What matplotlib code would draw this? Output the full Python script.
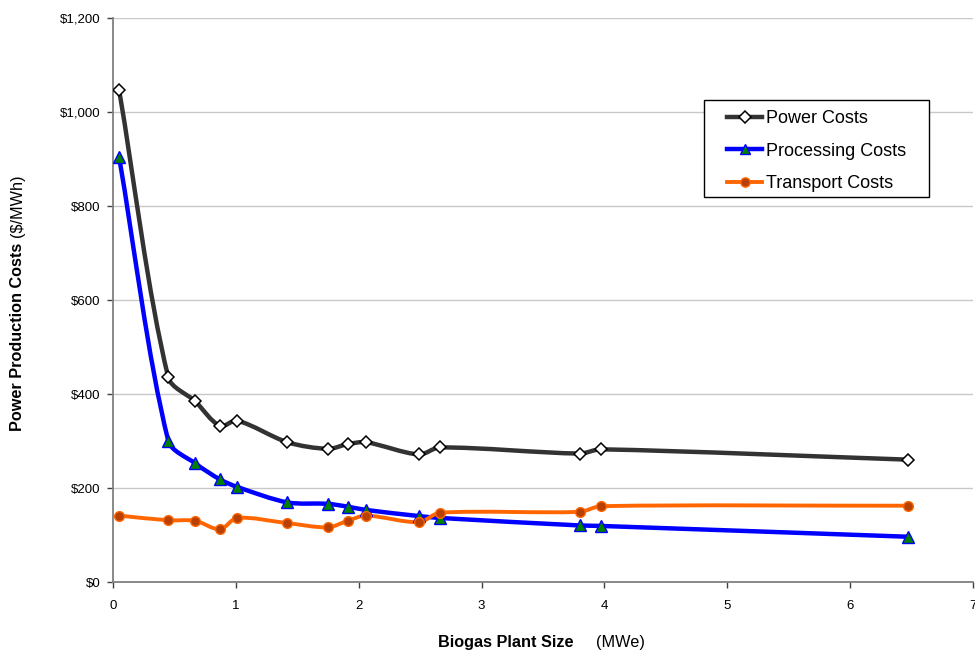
import matplotlib as mpl
mpl.use('Agg')

import math
import matplotlib.pyplot as plt
from matplotlib.path import Path
from matplotlib.patches import PathPatch, Rectangle
from matplotlib.lines import Line2D
from matplotlib.ticker import FuncFormatter

plt.rcParams['font.family'] = ['Liberation Sans', 'DejaVu Sans']

# plant size (MWe)
plant_size = [0.05, 0.45, 0.67, 0.87, 1.01, 1.42, 1.75, 1.91, 2.06, 2.49, 2.66, 3.80, 3.97, 6.47]

# costs ($/MWh)
power_costs = [1047, 436, 385, 333, 344, 298, 284, 294, 298, 272, 287, 274, 283, 261]
processing_costs = [904, 301, 253, 219, 203, 170, 167, 161, 154, 141, 137, 121, 120, 97]
transport_costs = [142, 132, 131, 113, 137, 126, 117, 131, 142, 128, 148, 150, 162, 163]

series_names = ['Power Costs', 'Processing Costs', 'Transport Costs']

y_ticks = [0, 200, 400, 600, 800, 1000, 1200]
x_ticks = [0, 1, 2, 3, 4, 5, 6, 7]

W, H = 975, 656
AX = [0.1159, 0.1123, 0.8821, 0.8598]


def smooth_path(xs, ys, sx, sy, k=0.3):
    # smoothed line like excel: tangent from neighbours, handle length from segment length
    # (worked out in screen units so that both axes count the same)
    pts = [(x * sx, y * sy) for x, y in zip(xs, ys)]
    n = len(pts)
    tans = []
    for i in range(n):
        a = pts[max(i - 1, 0)]
        b = pts[min(i + 1, n - 1)]
        dx, dy = b[0] - a[0], b[1] - a[1]
        l = math.hypot(dx, dy)
        tans.append((dx / l, dy / l))
    verts = [pts[0]]
    codes = [Path.MOVETO]
    for i in range(n - 1):
        p1, p2 = pts[i], pts[i + 1]
        d = math.hypot(p2[0] - p1[0], p2[1] - p1[1]) * k
        c1 = (p1[0] + tans[i][0] * d, p1[1] + tans[i][1] * d)
        c2 = (p2[0] - tans[i + 1][0] * d, p2[1] - tans[i + 1][1] * d)
        verts += [c1, c2, p2]
        codes += [Path.CURVE4] * 3
    verts = [(vx / sx, vy / sy) for vx, vy in verts]
    return Path(verts, codes)


fig = plt.figure(figsize=(W / 100, H / 100), dpi=100)
ax = fig.add_axes(AX)

sx = AX[2] * W / 7
sy = AX[3] * H / 1200

styles = [
    dict(color='#333333', lw=3.2, marker='D', ms=6.5, mfc='white', mec='black', mew=1.1),
    dict(color='#0000ff', lw=3.2, marker='^', ms=8, mfc='#008000', mec='#0000ff', mew=1.0),
    dict(color='#ff6600', lw=2.8, marker='o', ms=7, mfc='#b84000', mec='#ff6600', mew=1.0),
]

handles = []
for ys, name, st in zip([power_costs, processing_costs, transport_costs], series_names, styles):
    ax.add_patch(PathPatch(smooth_path(plant_size, ys, sx, sy), fill=False, edgecolor=st['color'],
                           lw=st['lw'], capstyle='round', joinstyle='round', zorder=3))
    ax.plot(plant_size, ys, linestyle='none', marker=st['marker'], ms=st['ms'],
            mfc=st['mfc'], mec=st['mec'], mew=st['mew'], zorder=4)
    handles.append(Line2D([], [], color=st['color'], lw=st['lw'], marker=st['marker'],
                          ms=st['ms'] * 0.95, mfc=st['mfc'], mec=st['mec'], mew=st['mew']))

ax.set_xlim(0, 7)
ax.set_ylim(0, 1200)
ax.set_xticks(x_ticks)
ax.set_yticks(y_ticks)
ax.yaxis.set_major_formatter(FuncFormatter(lambda v, p: '\\${:,.0f}'.format(v)))

ax.grid(axis='y', color='#c8c8c8', lw=1.0)
ax.set_axisbelow(True)
for s in ['top', 'right']:
    ax.spines[s].set_visible(False)
for s in ['left', 'bottom']:
    ax.spines[s].set_color('#808080')
    ax.spines[s].set_linewidth(1.3)

ax.tick_params(axis='y', direction='out', length=4, width=1, color='#404040',
               labelsize=9.5, pad=5)
ax.tick_params(axis='x', direction='out', length=4, width=1, color='#404040',
               labelsize=9.5, pad=9)

# axis titles: bold part + regular units
fig.text(573 / W, 1 - 643 / H, 'Biogas Plant Size', fontsize=11.7, fontweight='bold',
         ha='right', va='center')
fig.text(596 / W, 1 - 643 / H, '(MWe)', fontsize=11.7, ha='left', va='center')
fig.text(18 / W, 1 - 243 / H, 'Power Production Costs', fontsize=11.7, fontweight='bold',
         rotation=90, rotation_mode='anchor', ha='right', va='center')
fig.text(18 / W, 1 - 237 / H, '(\\$/MWh)', fontsize=11.7,
         rotation=90, rotation_mode='anchor', ha='left', va='center')

# legend: entries without frame, box drawn separately for excel-like padding
leg = ax.legend(handles, series_names, loc='upper left',
                bbox_to_anchor=(727 / W, 1 - 110 / H), bbox_transform=fig.transFigure,
                fontsize=13, frameon=False, handlelength=1.95, handletextpad=0.2,
                labelspacing=0.87, borderpad=0, borderaxespad=0)
leg.set_zorder(6)
ax.add_patch(Rectangle((704 / W, 1 - 197 / H), 225 / W, 97 / H, transform=fig.transFigure,
                       facecolor='white', edgecolor='black', lw=1.0, zorder=5, clip_on=False))

fig.savefig('out.png', dpi=100)
